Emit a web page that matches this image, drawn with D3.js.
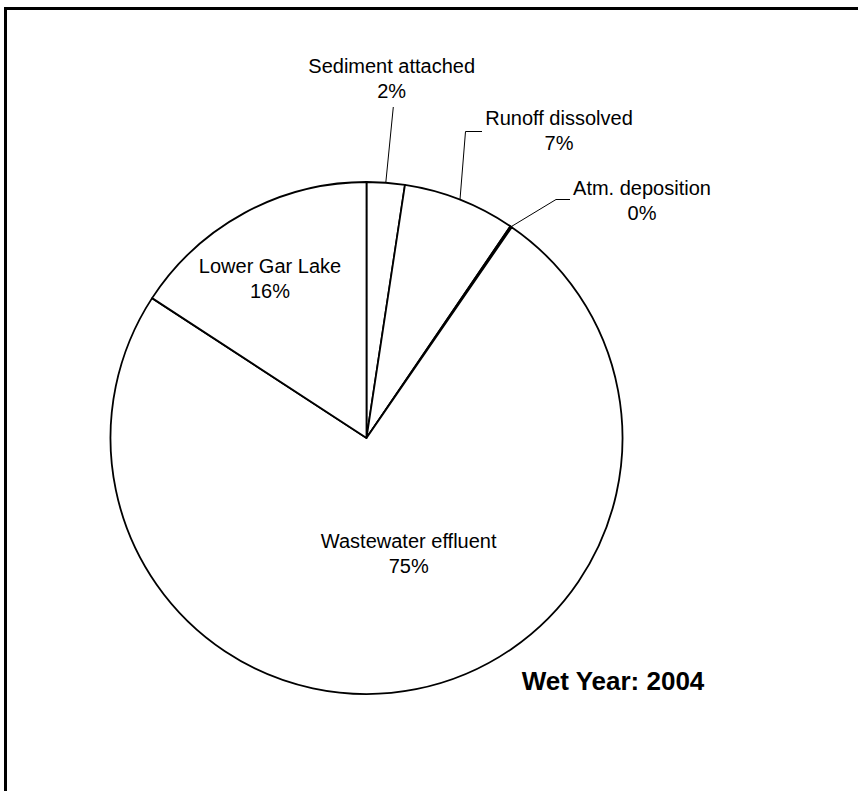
<!DOCTYPE html>
<html>
<head>
<meta charset="utf-8">
<script src="https://cdn.jsdelivr.net/npm/d3@7"></script>
<style>
  html, body { margin: 0; padding: 0; background: #fff; }
  svg { display: block; }
  text { font-family: "Liberation Sans", Arial, sans-serif; fill: #000; }
</style>
</head>
<body>
<svg id="chart" width="858" height="791"></svg>
<script>
// ---- data ----
const categories = ["Sediment attached", "Runoff dissolved", "Atm. deposition", "Wastewater effluent", "Lower Gar Lake"];
const values = [2.4, 7.1, 0.1, 74.6, 15.8];
const title = "Wet Year: 2004";

// ---- layout (positions kept separate from data) ----
const cx = 366.5, cy = 438, R = 256;
const labelLayout = [
  { x: 391.7, y: 73,  leader: [[393.3, 107]] },
  { x: 559,   y: 125, leader: [[465.5, 131.5], [482, 131.5]] },
  { x: 642,   y: 195, leader: [[556, 199.5], [570, 199.5]] },
  { x: 408.7, y: 548 },
  { x: 270,   y: 273 }
];
const lineGap = 24.5;

const svg = d3.select("#chart");

// frame
svg.append("rect")
  .attr("x", 5.5).attr("y", 8.5)
  .attr("width", 1000).attr("height", 1000)
  .attr("fill", "none").attr("stroke", "#000").attr("stroke-width", 3);

const total = d3.sum(values);
const data = categories.map((c, i) => ({ name: c, value: values[i], idx: i }));
const pie = d3.pie().value(d => d.value).sort(null).startAngle(0).endAngle(2 * Math.PI);
const arcs = pie(data);
const arcGen = d3.arc().innerRadius(0).outerRadius(R);

const g = svg.append("g").attr("transform", `translate(${cx},${cy})`);
g.selectAll("path.slice")
  .data(arcs)
  .enter().append("path")
  .attr("class", "slice")
  .attr("d", arcGen)
  .attr("fill", "#fff")
  .attr("stroke", "#000")
  .attr("stroke-width", 1.8)
  .attr("stroke-linejoin", "round");

// leaders
arcs.forEach((a, i) => {
  const L = labelLayout[i];
  if (!L.leader) return;
  const mid = (a.startAngle + a.endAngle) / 2;
  const start = [cx + R * Math.sin(mid), cy - R * Math.cos(mid)];
  const pts = [start].concat(L.leader);
  svg.append("path")
    .attr("d", d3.line()(pts))
    .attr("fill", "none")
    .attr("stroke", "#000")
    .attr("stroke-width", 1);
});

// labels
const pctFmt = v => Math.round(v / total * 100) + "%";
arcs.forEach((a, i) => {
  const L = labelLayout[i];
  const t = svg.append("text")
    .attr("text-anchor", "middle")
    .attr("font-size", "20px");
  t.append("tspan").attr("x", L.x).attr("y", L.y).text(a.data.name);
  t.append("tspan").attr("x", L.x).attr("y", L.y + lineGap).text(pctFmt(a.data.value));
});

// title
svg.append("text")
  .attr("x", 613).attr("y", 690)
  .attr("text-anchor", "middle")
  .attr("font-size", "26px")
  .attr("font-weight", "bold")
  .text(title);
</script>
</body>
</html>
